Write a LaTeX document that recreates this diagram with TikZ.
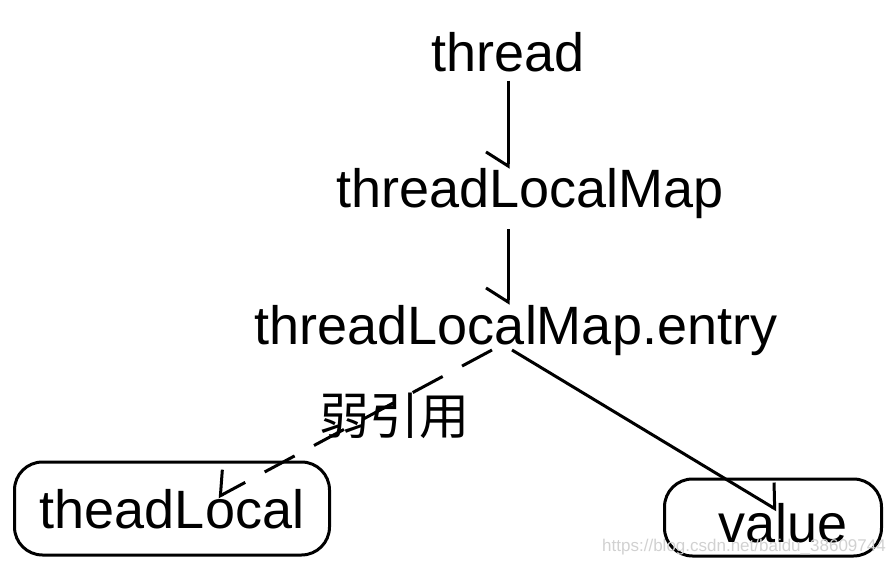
\documentclass[tikz,border=0pt]{standalone}
\usepackage{fontspec}
\setmainfont{Liberation Sans}
\newfontfamily\cjkfont{Noto Sans CJK SC}
\usetikzlibrary{arrows.meta}

\tikzset{
	word/.style = {inner sep=0pt, anchor=base, font=\fontsize{54}{60}\selectfont},
	rbox/.style = {draw, line width=3pt, rounded corners=28pt, inner sep=0pt, anchor=base, font=\fontsize{54}{60}\selectfont},
	barb/.style = {-{Straight Barb[harpoon,swap,length=14pt,width=44pt]}, line width=3pt},
	barbl/.style = {-{Straight Barb[harpoon,length=14pt,width=44pt]}, line width=3pt}
}

\begin{document}
\begin{tikzpicture}[x=1pt, y=-1pt]
	\useasboundingbox (0,0) rectangle (892,564);
	\node[word] (thread) at (508,72) {thread};
	\node[word] (map) at (530,208) {threadLocalMap};
	\node[word] (entry) at (516,344) {threadLocalMap.entry};
	\node[rbox, minimum width=315pt, text height=66pt, text depth=27pt] (tl) at (172,528) {theadLocal};
	\node[rbox, minimum width=217pt, text height=63pt, text depth=14pt] (val) at (773,542) {\hspace*{20pt}value};
	\node[font=\cjkfont\fontsize{50}{56}\selectfont, inner sep=0pt] (weak) at (394,416) {弱引用};
	\node[font=\fontsize{17}{20}\selectfont, text=black!18, inner sep=0pt, anchor=base east] (url) at (886,551) {https://blog.csdn.net/baidu\_38609744};

	\coordinate (weakend) at (218,497);
	\coordinate (valend) at (777,510);

	\draw[barb] ([yshift=-8pt]thread.south) -- (thread.south |- map.north);
	\coordinate (m1) at (thread.south |- map.south);
	\draw[barb] ([yshift=-10pt]m1) -- (m1 |- entry.north);
	\draw[barb, dash pattern=on 34pt off 22pt] ([xshift=-24pt,yshift=-6pt]entry.base) -- (weakend);
	\draw[barbl] ([xshift=-4pt,yshift=-6pt]entry.base) -- (valend);
\end{tikzpicture}
\end{document}
